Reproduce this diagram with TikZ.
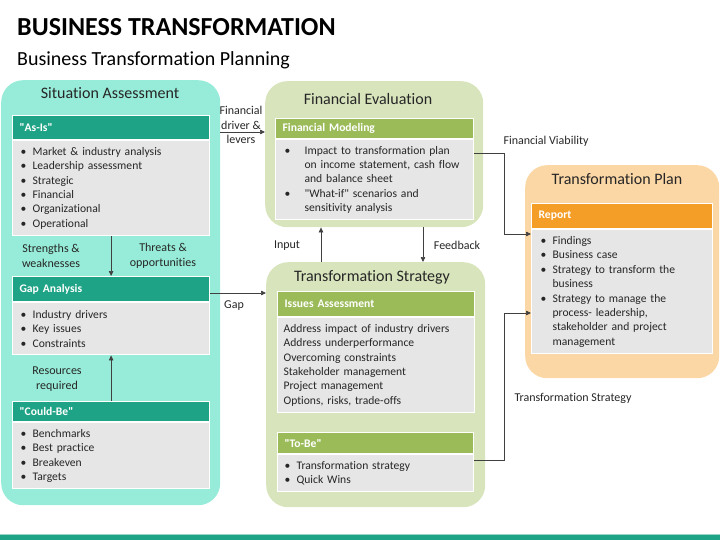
\documentclass[tikz,border=0pt]{standalone}
\usepackage{fontspec}
\setmainfont{Carlito}[Ligatures={NoCommon}]
\usetikzlibrary{arrows.meta}
\definecolor{tealpanel}{HTML}{96ECD8}
\definecolor{tealhead}{HTML}{1FA386}
\definecolor{greenpanel}{HTML}{D8E4BC}
\definecolor{greenhead}{HTML}{9BBB59}
\definecolor{orangepanel}{HTML}{FCD7A6}
\definecolor{orangehead}{HTML}{F49D27}
\definecolor{bodygray}{HTML}{E6E6E6}
\definecolor{inkgray}{HTML}{262626}
\newcommand{\bitem}[2][12pt]{\noindent\hangindent=#1\hangafter=1\makebox[#1][l]{\textbullet}#2\par}
\newcommand{\qt}[1]{\textquotedbl{}#1\textquotedbl{}}
\tikzset{
  panel/.style={rounded corners=22pt, anchor=north west, inner sep=0pt},
  paneltitle/.style={font=\fontsize{16}{19}\selectfont, text=inkgray},
  head/.style={draw=white, line width=1.2pt, anchor=north west, text=white,
    font=\bfseries\fontsize{11.6}{14.4}\selectfont, inner xsep=7pt, inner ysep=0pt, align=left},
  body/.style={draw=white, line width=1.2pt, fill=bodygray, anchor=north west, text=inkgray,
    font=\fontsize{11.6}{14.4}\selectfont, inner ysep=0pt, align=left},
  lbl/.style={font=\fontsize{12}{14.4}\selectfont, text=inkgray, align=center},
  link/.style={draw=black!75, line width=0.7pt, -{Triangle[length=5pt,width=4.5pt]}}
}
\begin{document}
\begin{tikzpicture}[x=1pt,y=-1pt]
\useasboundingbox (0,0) rectangle (720,540);
\node[anchor=base west, inner xsep=0pt, text=black, font=\bfseries\fontsize{26}{30}\selectfont] (title) at (17,36) {BUSINESS TRANSFORMATION};
\node[anchor=base west, inner xsep=0pt, text=black, font=\fontsize{20}{24}\selectfont] (subtitle) at (17,66) {Business Transformation Planning};

\node[panel, fill=tealpanel, minimum width=219, minimum height=425] (sit) at (1,80) {};
\node[panel, fill=greenpanel, minimum width=218, minimum height=146] (fineval) at (265,81) {};
\node[panel, fill=greenpanel, minimum width=219, minimum height=245] (strat) at (266,262) {};
\node[panel, fill=orangepanel, minimum width=194, minimum height=213] (plan) at (525,165) {};

\node[paneltitle] (sittitle) at (110,93) {Situation Assessment};
\node[paneltitle] (fintitle) at (368,99) {Financial Evaluation};
\node[paneltitle] (strattitle) at (372,277) {Transformation Strategy};
\node[paneltitle] (plantitle) at (617,179) {Transformation Plan};

\node[head, fill=tealhead, text width=183pt, minimum height=24] (asis) at (12,115) {\qt{As-Is}};
\node[body, inner xsep=8pt, text width=181pt, minimum height=95] (asisbody) at (asis.south west) {%
  \bitem{Market \& industry analysis}\bitem{Leadership assessment}\bitem{Strategic}%
  \bitem{Financial}\bitem{Organizational}\bitem{Operational}};
\node[head, fill=tealhead, text width=183pt, minimum height=25] (gap) at (12,276) {Gap Analysis};
\node[body, inner xsep=8pt, text width=181pt, minimum height=52] (gapbody) at (gap.south west) {%
  \bitem{Industry drivers}\bitem{Key issues}\bitem{Constraints}};
\node[head, fill=tealhead, text width=183pt, minimum height=20] (could) at (12,401) {\qt{Could-Be}};
\node[body, inner xsep=8pt, text width=181pt, minimum height=66] (couldbody) at (could.south west) {%
  \bitem{Benchmarks}\bitem{Best practice}\bitem{Breakeven}\bitem{Targets}};

\node[head, fill=greenhead, text width=184pt, minimum height=20] (finmod) at (275,118) {Financial Modeling};
\node[body, inner xsep=9pt, text width=180pt, minimum height=80] (finbody) at (finmod.south west) {%
  \bitem[20pt]{\mbox{Impact to transformation plan}\newline \mbox{on income statement, cash flow}\newline \mbox{and balance sheet}}%
  \bitem[20pt]{\mbox{\qt{What-if} scenarios and}\newline \mbox{sensitivity analysis}}};

\node[head, fill=greenhead, text width=183pt, minimum height=25] (issues) at (277,291) {Issues Assessment};
\node[body, inner xsep=6pt, text width=185pt, minimum height=95] (issuesbody) at (issues.south west) {%
  Address impact of industry drivers\\ Address underperformance\\ Overcoming constraints\\
  Stakeholder management\\ Project management\\ Options, risks, trade-offs};
\node[head, fill=greenhead, text width=182pt, minimum height=21] (tobe) at (277,432) {\qt{To-Be}};
\node[body, inner xsep=7pt, text width=182pt, minimum height=37] (tobebody) at (tobe.south west) {%
  \bitem{Transformation strategy}\bitem{Quick Wins}};

\node[head, fill=orangehead, text width=167pt, minimum height=25] (report) at (531,203) {Report};
\node[body, inner xsep=9pt, text width=163pt, minimum height=124] (repbody) at (report.south west) {%
  \bitem{Findings}\bitem{Business case}\bitem{Strategy to transform the\newline business}%
  \bitem{Strategy to manage the\newline process- leadership,\newline stakeholder and project\newline management}};

\node[lbl] (drvlbl) at (241,125) {Financial\\driver \&\\levers};
\node[lbl] (swlbl) at (51,256) {Strengths \&\\weaknesses};
\node[lbl] (tolbl) at (163,256) {Threats \&\\opportunities};
\node[lbl] (reslbl) at (57,379) {Resources\\required};
\node[lbl] (gaplbl) at (234,306) {Gap};
\node[lbl] (inlbl) at (287,246) {Input};
\node[lbl] (fblbl) at (457,245) {Feedback};
\node[lbl, anchor=west] (fvlbl) at (500,141) {Financial Viability};
\node[lbl, anchor=west] (tslbl) at (511,398) {Transformation Strategy};

\coordinate (drvy) at (0,132);
\coordinate (gapy) at (0,293);
\coordinate (inx) at (321,0);
\coordinate (fbx) at (423,0);
\coordinate (fv1) at (504,153);
\coordinate (fv2) at (0,234);
\coordinate (ts1) at (504,460);
\coordinate (ts2) at (0,313);

\draw[link] (sit.east |- drvy) -- (fineval.west |- drvy);
\draw[link] (asisbody.south) -- (gap.north);
\draw[link] (could.north) -- (gapbody.south);
\draw[link] (gap.east |- gapy) -- (strat.west |- gapy);
\draw[link] (strat.north -| inx) -- (fineval.south -| inx);
\draw[link] (fineval.south -| fbx) -- (strat.north -| fbx);
\draw[link] (finbody.east |- fv1) -- (fv1) |- (repbody.west |- fv2);
\draw[link] (tobebody.east |- ts1) -- (ts1) |- (repbody.west |- ts2);

\fill[tealhead!45] (0,533.5) rectangle (720,535);
\fill[tealhead] (0,535) rectangle (720,540);
\end{tikzpicture}
\end{document}
